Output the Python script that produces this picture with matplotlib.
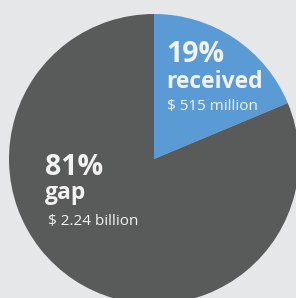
import matplotlib.pyplot as plt

# funding split (US$ millions)
labels = ['received', 'gap']
values = [515, 2240]
pct_text = ['19%', '81%']
amount_text = ['$ 515 million', '$ 2.24 billion']
colors = ['#5b9bd5', '#595a5a']

W, H = 296, 298
fig = plt.figure(figsize=(W / 100, H / 100), dpi=100)
fig.patch.set_facecolor('#e6e7e9')
ax = fig.add_axes([0, 0, 1, 1])
ax.set_facecolor('#e6e7e9')

ax.pie(values, colors=colors, startangle=90, counterclock=False,
       center=(154, H - 159), radius=145,
       wedgeprops=dict(linewidth=0))
ax.set_xlim(0, W)
ax.set_ylim(0, H)
ax.set_aspect('auto')
ax.axis('off')

txt = '#f2f2f2'
font = 'Open Sans'

# received label
ax.text(166, H - 62, pct_text[0], color=txt, fontsize=20.5, fontweight='bold',
        family=font, va='baseline', ha='left')
ax.text(166, H - 88, labels[0], color=txt, fontsize=16.5, fontweight='bold',
        family=font, va='baseline', ha='left')
ax.text(167, H - 110, amount_text[0], color=txt, fontsize=11,
        family=font, va='baseline', ha='left')

# gap label
ax.text(45, H - 175, pct_text[1], color=txt, fontsize=20.5, fontweight='bold',
        family=font, va='baseline', ha='left')
ax.text(45, H - 199, labels[1], color=txt, fontsize=16.5, fontweight='bold',
        family=font, va='baseline', ha='left')
ax.text(48, H - 225, amount_text[1], color=txt, fontsize=11,
        family=font, va='baseline', ha='left')

fig.savefig('out.png', dpi=100, facecolor=fig.get_facecolor())
